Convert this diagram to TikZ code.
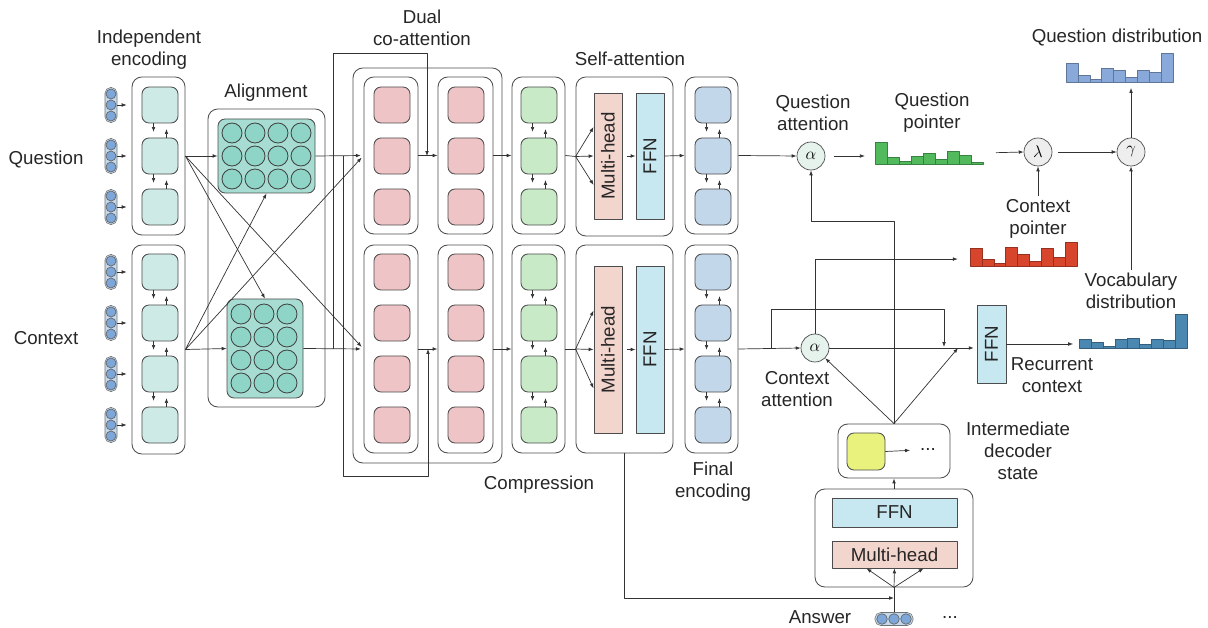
\documentclass[tikz,border=0pt]{standalone}
\usepackage{fontspec}
\setmainfont{Liberation Sans}
\usetikzlibrary{arrows.meta, fit}

\definecolor{inC}{HTML}{C5D9EE}
\definecolor{dotC}{HTML}{7DA7D9}
\definecolor{encC}{HTML}{CDEAE6}
\definecolor{matC}{HTML}{A6DCD2}
\definecolor{circC}{HTML}{8ED5C7}
\definecolor{coC}{HTML}{EFC4C7}
\definecolor{cmpC}{HTML}{C8EAC7}
\definecolor{mhC}{HTML}{F2D5CD}
\definecolor{ffnC}{HTML}{C8E8F1}
\definecolor{finC}{HTML}{C3D7EA}
\definecolor{attC}{HTML}{E5F3EC}
\definecolor{opC}{HTML}{EEEEEE}
\definecolor{yelC}{HTML}{E9F27C}
\definecolor{qgreen}{HTML}{52B95C}
\definecolor{cred}{HTML}{D7452D}
\definecolor{qdistC}{HTML}{88A9DA}
\definecolor{vocC}{HTML}{4A87B1}

\tikzset{
  grp/.style={draw=black!70, rounded corners=7pt, line width=0.6pt, inner sep=0pt},
  cell/.style={draw=black!70, rounded corners=5pt, minimum width=0.9cm, minimum height=0.9cm, line width=0.6pt},
  mat/.style={draw=black!70, fill=matC, rounded corners=5pt, line width=0.6pt, inner sep=0pt},
  acirc/.style={draw=black!75, fill=circC, line width=0.6pt},
  stk/.style={draw=black!55, fill=inC, rounded corners=4pt, minimum width=0.3cm, minimum height=0.875cm, inner sep=0pt},
  astk/.style={draw=black!55, fill=inC, rounded corners=4pt, minimum width=0.95cm, minimum height=0.325cm, inner sep=0pt},
  dot/.style={draw=black!60, fill=dotC, line width=0.5pt},
  bx/.style={draw=black!70, line width=0.6pt, inner sep=0pt, font=\fontsize{13.3}{15.6}\selectfont, text=black!85},
  arr/.style={-{Latex[length=3.5pt,width=2.6pt]}, line width=0.5pt, draw=black!80},
  ln/.style={line width=0.5pt, draw=black!80},
  lbl/.style={align=center, text=black!85, inner sep=2pt, font=\fontsize{13.3}{15.6}\selectfont},
  op/.style={circle, draw=black!70, minimum size=0.7cm, inner sep=0pt, line width=0.5pt, font=\large},
  hbar/.style={line width=0.4pt},
}

\begin{document}
\begin{tikzpicture}[x=0.025cm, y=-0.025cm, line join=round]
    \useasboundingbox (0,0) rectangle (1208,628);

    % independent encoding
    \node[grp, fit={(132,77) (185,235)}] (encq) {};
    \node[grp, fit={(132,245) (185,454)}] (encc) {};
    \foreach \y [count=\i] in {105,156,207} {
      \node[cell, fill=encC] (eq\i) at (160,\y) {};
      \node[stk] (iq\i) at (111,\y) {};
      \foreach \d in {-11,0,11} \draw[dot] (111,\y+\d) circle[radius=5];
      \draw[arr, shorten >=3.5pt] (iq\i.east) -- (iq\i.east -| encq.west);
    }
    \foreach \y [count=\i] in {272,323,374,425} {
      \node[cell, fill=encC] (ec\i) at (160,\y) {};
      \node[stk] (ic\i) at (111,\y) {};
      \foreach \d in {-11,0,11} \draw[dot] (111,\y+\d) circle[radius=5];
      \draw[arr, shorten >=3.5pt] (ic\i.east) -- (ic\i.east -| encc.west);
    }
    \node[lbl] (indlab) at (149,50) {Independent\\encoding};
    \node[lbl] (qlab) at (46,159) {Question};
    \node[lbl] (clab) at (46,338) {Context};

    % alignment
    \node[grp, fit={(208,109) (325,407)}] (algn) {};
    \node[mat, fit={(218,119) (315,193)}] (qmat) {};
    \foreach \x in {232,255,278,301}
      \foreach \y in {133,156,179} \draw[acirc] (\x,\y) circle[radius=10];
    \node[mat, fit={(227,299) (303,398)}] (cmat) {};
    \foreach \x in {241,264,287}
      \foreach \y in {314,337,360,383} \draw[acirc] (\x,\y) circle[radius=10];
    \node[lbl] (alnlab) at (266,93) {Alignment};

    % dual co-attention
    \node[grp, fit={(353,68) (502,463)}] (dual) {};
    \node[grp, fit={(364,77) (418,234)}] (dq1) {};
    \node[grp, fit={(364,245) (418,453)}] (dc1) {};
    \node[grp, fit={(438,77) (493,234)}] (dq2) {};
    \node[grp, fit={(438,245) (493,453)}] (dc2) {};
    \foreach \y in {105,156,207} {
      \node[cell, fill=coC] at (392,\y) {};
      \node[cell, fill=coC] at (466,\y) {};
    }
    \foreach \y in {272,323,374,425} {
      \node[cell, fill=coC] at (392,\y) {};
      \node[cell, fill=coC] at (466,\y) {};
    }
    \node[lbl] (duallab) at (422,28) {Dual\\co-attention};

    % compression
    \node[grp, fit={(512,77) (565,234)}] (cmq) {};
    \node[grp, fit={(512,245) (565,453)}] (cmc) {};
    \foreach \y [count=\i] in {105,156,207} \node[cell, fill=cmpC] (gq\i) at (539,\y) {};
    \foreach \y [count=\i] in {272,323,374,425} \node[cell, fill=cmpC] (gc\i) at (539,\y) {};
    \node[lbl] (cmplab) at (539,485) {Compression};

    % self-attention (rotated boxes: north is left, south is right)
    \node[grp, fit={(576,77) (673,236)}] (saq) {};
    \node[grp, fit={(576,245) (673,453)}] (sac) {};
    \node[bx, fill=mhC, rotate=90, minimum width=3.15cm, minimum height=0.7cm] (mhq) at (608,156) {Multi-head};
    \node[bx, fill=ffnC, rotate=90, minimum width=3.15cm, minimum height=0.7cm] (ffq) at (650,156) {FFN};
    \node[bx, fill=mhC, rotate=90, minimum width=4.175cm, minimum height=0.7cm] (mhc) at (608,349.5) {Multi-head};
    \node[bx, fill=ffnC, rotate=90, minimum width=4.175cm, minimum height=0.7cm] (ffc) at (650,349.5) {FFN};
    \node[lbl] (salab) at (630,59) {Self-attention};

    % final encoding
    \node[grp, fit={(685,77) (738,234)}] (fnq) {};
    \node[grp, fit={(685,245) (738,453)}] (fnc) {};
    \foreach \y [count=\i] in {105,156,207} \node[cell, fill=finC] (bq\i) at (713,\y) {};
    \foreach \y [count=\i] in {272,323,374,425} \node[cell, fill=finC] (bc\i) at (713,\y) {};
    \node[lbl] (finlab) at (713,482) {Final\\encoding};

    % arrows between stacked cells
    \foreach \p/\i/\j in {eq/1/2, eq/2/3, ec/1/2, ec/2/3, ec/3/4, gq/1/2, gq/2/3, gc/1/2, gc/2/3, gc/3/4, bq/1/2, bq/2/3, bc/1/2, bc/2/3, bc/3/4} {
      \draw[arr, shorten >=4pt] ([xshift=-4.6pt]\p\i.south) -- ([xshift=-4.6pt]\p\j.north);
      \draw[arr, shorten >=4pt] ([xshift=4.6pt]\p\j.north) -- ([xshift=4.6pt]\p\i.south);
    }

    % encoder connections
    \draw[arr] (encq.east) -- (qmat.west);
    \draw[arr] (encq.east) -- (cmat.north);
    \draw[arr, shorten >=2pt] (encq.east) -- (dc1.west);
    \draw[arr] (encc.east) -- (cmat.west);
    \draw[arr] (encc.east) -- (qmat.south);
    \draw[arr, shorten >=2pt] (encc.east) -- (dq1.west);
    \draw[arr, shorten >=2pt] (qmat.east) -- (dq1.west);
    \draw[arr, shorten >=2pt] (cmat.east) -- (dc1.west);
    \coordinate (jq) at (427,156);
    \coordinate (jc) at (428,349);
    \draw[arr] (333,349) -- (333,53) -| (jq);
    \draw[arr] (343,156) -- (343,476) -| (jc);
    \draw[arr] (dq1.east) -- (dq2.west);
    \draw[arr] (dc1.east) -- (dc2.west);
    \draw[arr] (dq2.east) -- (cmq.west);
    \draw[arr] (dc2.east) -- (cmc.west);
    \draw[ln] (cmq.east) -- (saq.west);
    \draw[ln] (cmc.east) -- (sac.west);
    \foreach \s in {20.6,0,-20.6} \draw[arr] (saq.west) -- ([yshift=\s pt]mhq.north);
    \foreach \s in {27.7,0,-27.7} \draw[arr] (sac.west) -- ([yshift=\s pt]mhc.north);
    \draw[arr, shorten <=3pt] (mhq.south) -- (ffq.north);
    \draw[arr, shorten <=3pt] (mhc.south) -- (ffc.north);
    \draw[arr] (ffq.south) -- (fnq.west);
    \draw[arr] (ffc.south) -- (fnc.west);

    % attention and pointers
    \node[op, fill=attC] (qatt) at (811,156) {$\alpha$};
    \node[op, fill=attC] (catt) at (815,348) {$\alpha$};
    \node[op, fill=opC] (lam) at (1038,152) {$\lambda$};
    \node[op, fill=opC] (gam) at (1131,152) {$\gamma$};
    \node[lbl] (qalab) at (813,113) {Question\\attention};
    \node[lbl] (qplab) at (932,113) {Question\\pointer};
    \node[lbl] (cplab) at (1038,219) {Context\\pointer};
    \node[lbl] (vdlab) at (1131,291) {Vocabulary\\distribution};
    \node[lbl] (rclab) at (1052,375) {Recurrent\\context};
    \node[lbl] (calab) at (797,389) {Context\\attention};
    \node[lbl] (qdlab) at (1117,37) {Question distribution};

    \node[fit={(875,142) (983,164)}, inner sep=0pt] (qptr) {};
    \foreach \h [count=\i from 0] in {22,7,3,8,11,5,13,9,2}
      \draw[hbar, fill=qgreen, draw=qgreen!70!black] ({875+12*\i},164) rectangle ++(12,-\h);
    \node[fit={(970,242) (1077,266)}, inner sep=0pt] (cptr) {};
    \foreach \h [count=\i from 0] in {18,7,3,19,12,5,18,9,24}
      \draw[hbar, fill=cred, draw=cred!70!black] ({970+11.9*\i},266) rectangle ++(11.9,-\h);
    \node[fit={(1066,53) (1173,82)}, inner sep=0pt] (qdis) {};
    \foreach \h [count=\i from 0] in {19,7,3,14,12,5,12,10,29}
      \draw[hbar, fill=qdistC, draw=qdistC!70!black] ({1066+11.9*\i},82) rectangle ++(11.9,-\h);
    \node[fit={(1079,314) (1187,348)}, inner sep=0pt] (voc) {};
    \foreach \h [count=\i from 0] in {9,6,1.5,9,10,4,9,8,34}
      \draw[hbar, fill=vocC, draw=vocC!70!black] ({1079+12*\i},348) rectangle ++(12,-\h);

    \node[bx, fill=ffnC, rotate=90, minimum width=1.95cm, minimum height=0.725cm] (rffn) at (991.5,344) {FFN};

    \draw[arr] (fnq.east) -- (qatt.west);
    \draw[arr] (fnc.east) -- (catt.west);
    \draw[arr, shorten <=6pt, shorten >=7pt] (qatt.east) -- (qatt.east -| qptr.west);
    \draw[arr, shorten <=9pt] (qptr.east) -- (lam.west);
    \draw[arr, shorten <=4pt] (lam.east) -- (gam.west);
    \draw[arr, shorten >=4pt] (gam.north) -- (gam.north |- qdis.south);
    \draw[arr] (cplab.north) -- (lam.south);
    \draw[arr] (vdlab.north) -- (gam.south);
    \coordinate (br) at (771,349);
    \coordinate (jr) at (944,347);
    \draw[arr] (br) |- (944,309) -- (jr);
    \draw[arr, shorten >=8.5pt] (catt.north) |- ([yshift=-3.6pt]cptr.west);
    \draw[arr, shorten >=2pt] (catt.east) -- (catt.east -| rffn.north);
    \draw[arr, shorten >=4pt] (rffn.south) -- (rffn.south -| voc.west);

    % decoder
    \node[grp, fit={(838,424) (950,478)}] (dst) {};
    \node[cell, fill=yelC, minimum width=0.95cm, minimum height=0.925cm] (yc) at (866,451.5) {};
    \node[lbl] (dots1) at (928,450) {...};
    \draw[arr, shorten >=5pt] (yc.east) -- (dots1.west);
    \node[lbl] (idlab) at (1018,451) {Intermediate\\decoder\\state};
    \coordinate (tq) at (894,221);
    \coordinate (jd) at (958,348);
    \draw[arr] (dst.north) -- (tq) -| (qatt.south);
    \draw[arr] (dst.north) -- (catt.south east);
    \draw[arr] (dst.north) -- (jd);

    \node[grp, fit={(815,489) (973,587)}] (edb) {};
    \node[bx, fill=ffnC, minimum width=3.125cm, minimum height=0.725cm] (dffn) at (894.5,512.5) {FFN};
    \node[bx, fill=mhC, minimum width=3.125cm, minimum height=0.675cm] (dmh) at (894.5,554.5) {Multi-head};
    \draw[arr] (edb.north) -- (dst.south);
    \node[astk] (ans) at (894,619) {};
    \foreach \x in {882,894,906} \draw[dot] (\x,619) circle[radius=5.3];
    \node[lbl] (anslab) at (820,617) {Answer};
    \node[lbl] (dots2) at (950,617) {...};
    \draw[ln] (ans.north) -- (edb.south);
    \foreach \s in {-19.9,0,20.6} \draw[arr] (edb.south) -- ([xshift=\s pt]dmh.south);
    \coordinate (ja) at (894,598);
    \draw[arr] (sac.south) |- (ja);
\end{tikzpicture}
\end{document}
